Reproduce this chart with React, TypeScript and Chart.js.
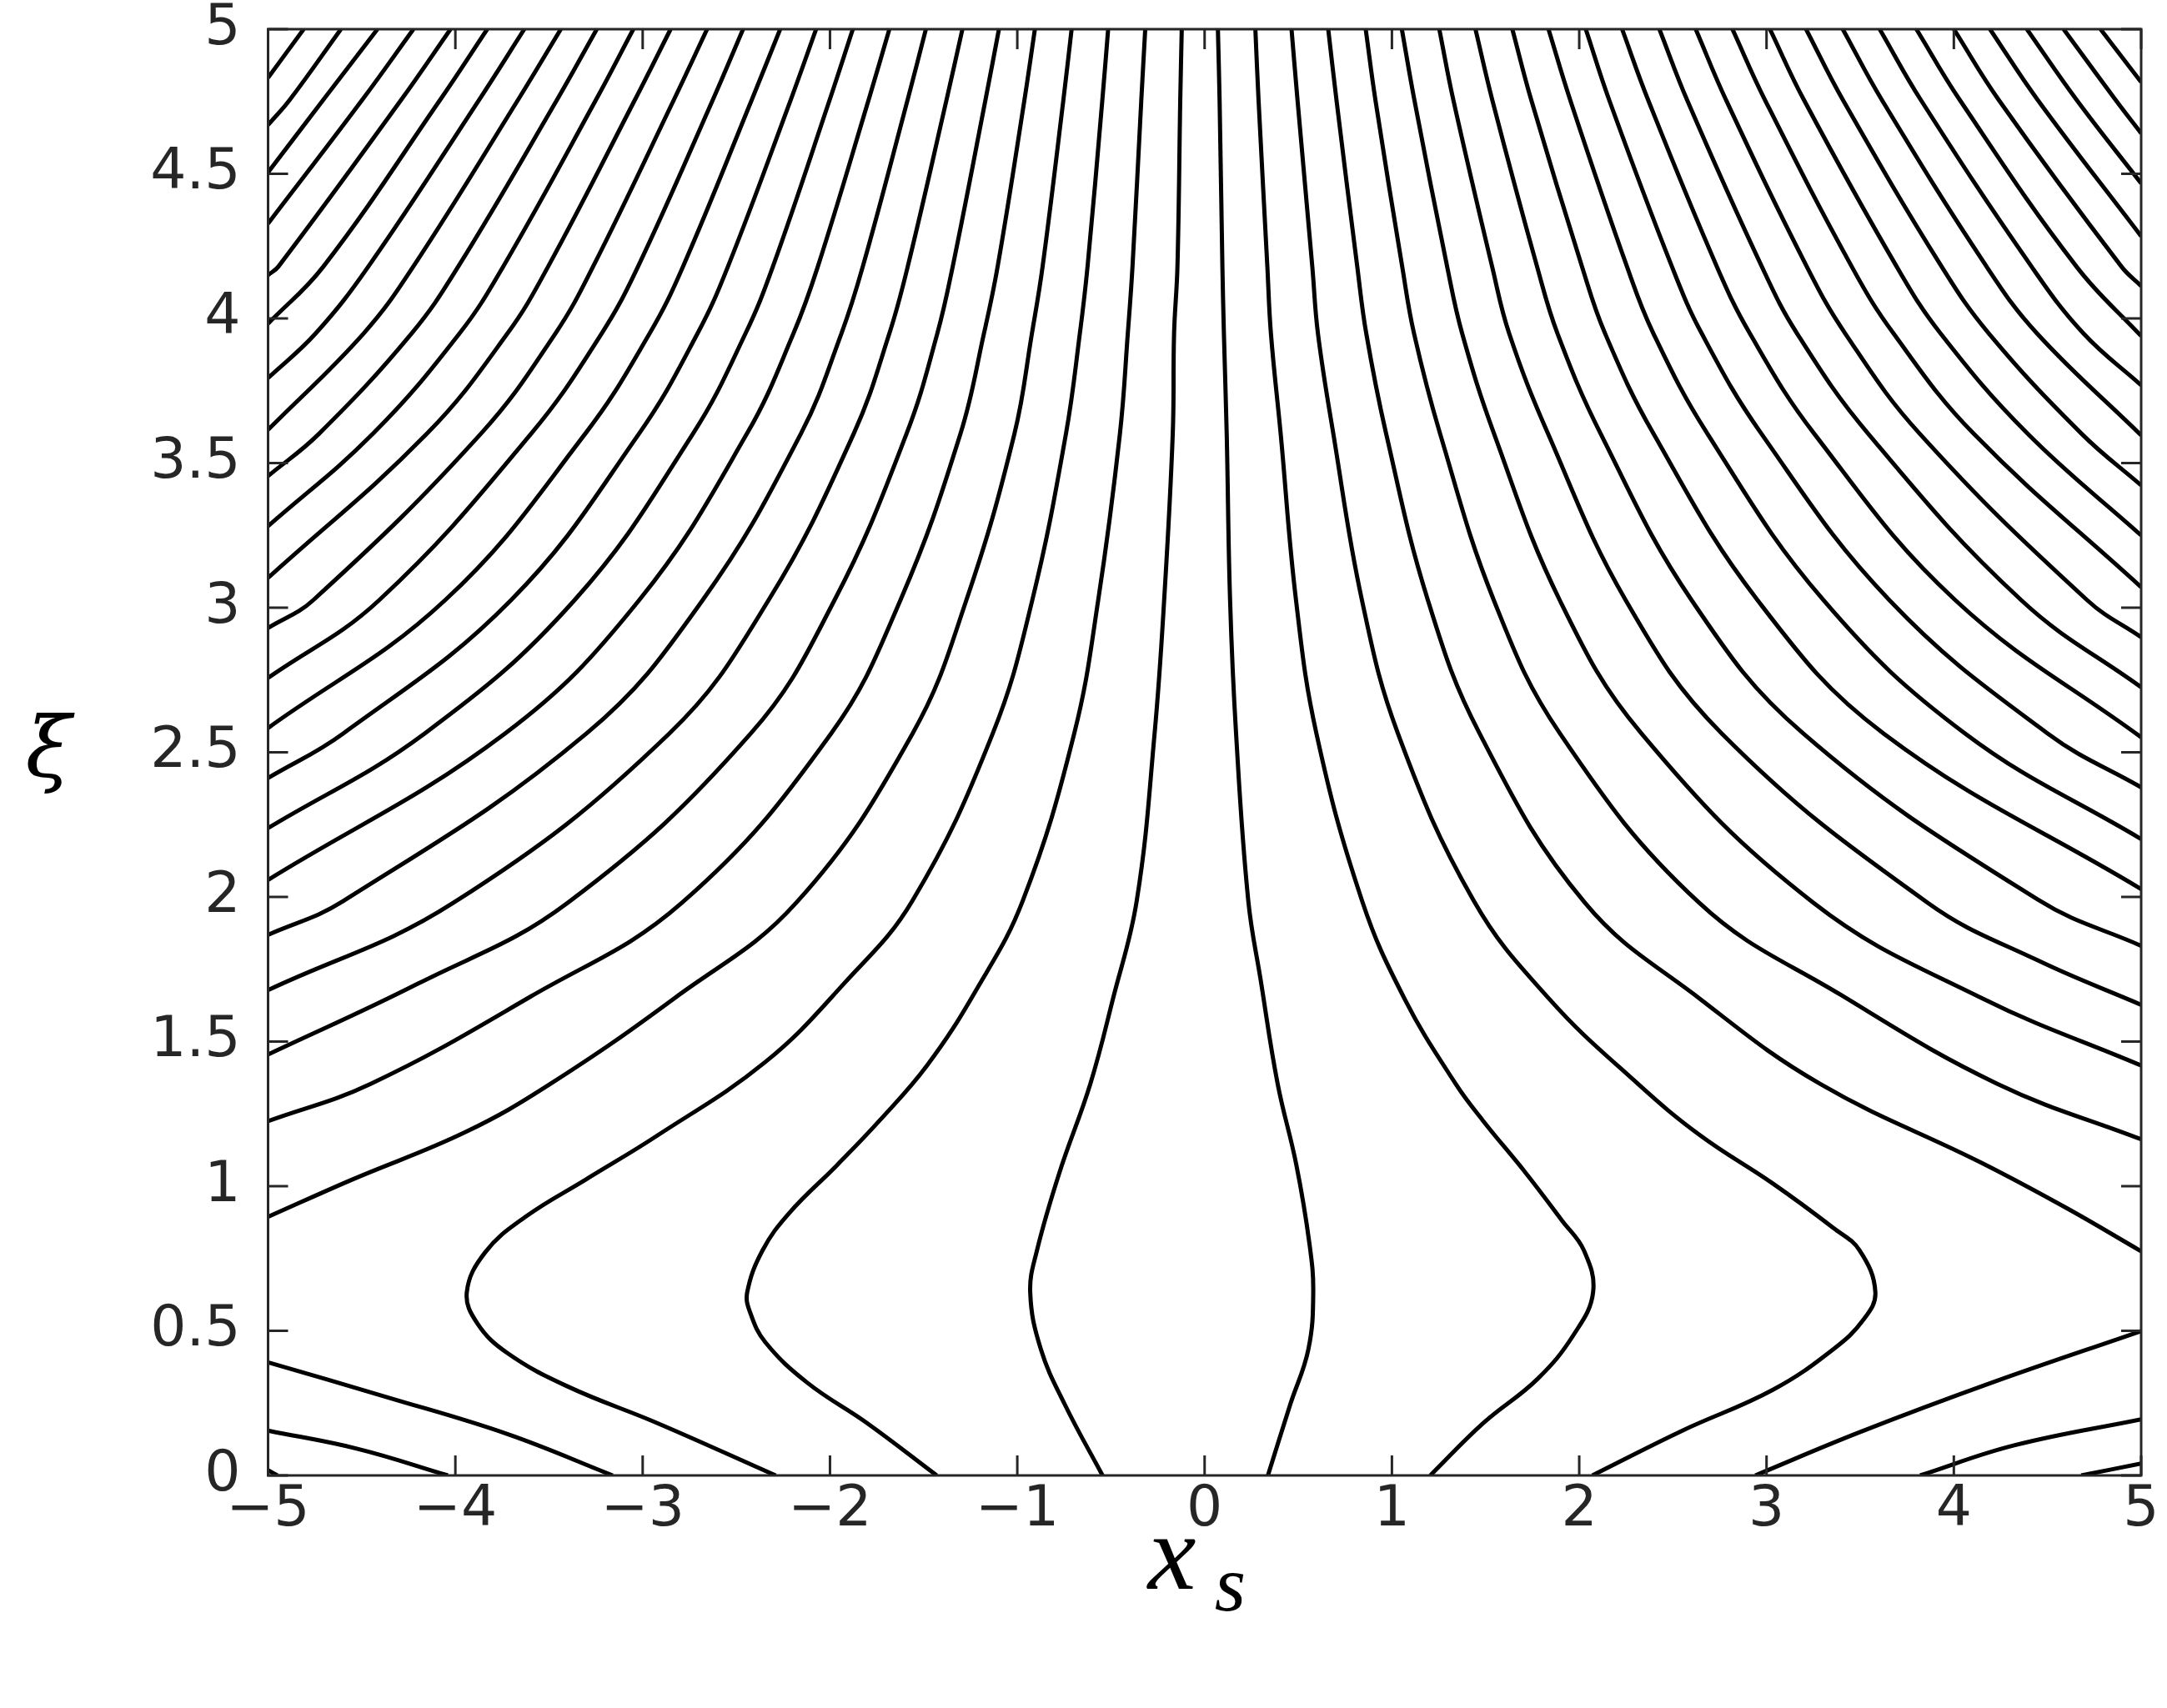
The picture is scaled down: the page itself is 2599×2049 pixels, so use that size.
import React, { useEffect, useRef } from "react";
import { Chart, registerables } from "chart.js";

Chart.register(...registerables);

// ---- axis ticks ----
const X_TICKS = [-5, -4, -3, -2, -1, 0, 1, 2, 3, 4, 5];
const Y_TICKS = [0, 0.5, 1, 1.5, 2, 2.5, 3, 3.5, 4, 4.5, 5];

// ---- contour lines, [x_s, xi] pairs ----
// left family (top edge -> left edge)
const L0 = [[-4.81, 5], [-5, 4.832]];
const L1 = [[-4.611, 5], [-4.885, 4.755], [-5, 4.669]];
const L2 = [[-4.416, 5], [-4.706, 4.755], [-5, 4.505]];
const L3 = [[-4.224, 5], [-4.498, 4.755], [-5, 4.328]];
const L4 = [[-4.026, 5], [-4.29, 4.755], [-4.945, 4.179], [-5, 4.15]];
const L5 = [[-3.83, 5], [-4.082, 4.755], [-4.705, 4.179], [-5, 3.982]];
const L6 = [[-3.632, 5], [-3.874, 4.755], [-4.465, 4.179], [-4.746, 3.948], [-5, 3.794]];
const L7 = [[-3.437, 5], [-3.666, 4.755], [-4.225, 4.179], [-4.49, 3.948], [-5, 3.615]];
const L8 = [[-3.245, 5], [-3.458, 4.755], [-3.985, 4.179], [-4.234, 3.948], [-4.727, 3.602], [-5, 3.455]];
const L9 = [[-3.05, 5], [-3.25, 4.755], [-3.745, 4.179], [-3.978, 3.948], [-4.439, 3.602], [-5, 3.282]];
const L10 = [[-2.851, 5], [-3.042, 4.755], [-3.505, 4.179], [-3.722, 3.948], [-4.151, 3.602], [-5, 3.103]];
const L11 = [[-2.656, 5], [-2.834, 4.755], [-3.265, 4.179], [-3.466, 3.948], [-3.863, 3.602], [-4.759, 3.026], [-5, 2.93]];
const L12 = [[-2.464, 5], [-2.626, 4.755], [-3.025, 4.179], [-3.219, 3.948], [-3.595, 3.602], [-4.407, 3.026], [-5, 2.757]];
const L13 = [[-2.266, 5], [-2.418, 4.755], [-2.785, 4.179], [-2.963, 3.948], [-3.306, 3.602], [-4.055, 3.026], [-5, 2.584]];
const L14 = [[-2.074, 5], [-2.21, 4.755], [-2.545, 4.179], [-2.707, 3.948], [-3.019, 3.602], [-3.703, 3.026], [-4.599, 2.565], [-5, 2.411]];
const L15 = [[-1.878, 5], [-2.002, 4.755], [-2.305, 4.179], [-2.451, 3.948], [-2.731, 3.602], [-3.364, 3.026], [-4.164, 2.565], [-5, 2.238]];
const L16 = [[-1.683, 5], [-1.794, 4.755], [-2.065, 4.179], [-2.195, 3.948], [-2.443, 3.602], [-3.019, 3.026], [-3.735, 2.565], [-5, 2.059]];
const L17 = [[-1.488, 5], [-1.586, 4.755], [-1.825, 4.179], [-1.939, 3.948], [-2.155, 3.602], [-2.68, 3.026], [-3.3, 2.565], [-4.6, 1.985], [-5, 1.869]];
const L18 = [[-1.293, 5], [-1.378, 4.755], [-1.585, 4.179], [-1.683, 3.948], [-1.873, 3.602], [-2.328, 3.026], [-2.858, 2.565], [-4.01, 1.98], [-5, 1.678]];
const L19 = [[-1.098, 5], [-1.17, 4.755], [-1.345, 4.179], [-1.427, 3.948], [-1.591, 3.602], [-1.976, 3.026], [-2.423, 2.565], [-3.4, 1.98], [-4.2, 1.7], [-5, 1.455]];
const L20 = [[-0.906, 5], [-0.962, 4.755], [-1.105, 4.179], [-1.178, 3.948], [-1.303, 3.602], [-1.624, 3.026], [-1.994, 2.565], [-2.79, 1.98], [-3.6, 1.655], [-4.452, 1.354], [-5, 1.225]];
const L21 = [[-0.71, 5], [-0.754, 4.755], [-0.865, 4.179], [-0.922, 3.948], [-1.015, 3.602], [-1.272, 3.026], [-1.559, 2.565], [-2.18, 1.98], [-2.83, 1.65], [-3.492, 1.354], [-3.946, 1.187], [-4.554, 1.022], [-5, 0.894]];
// left bulging lines (top edge -> bottom edge)
const B2 = [[-0.515, 5], [-0.546, 4.755], [-0.625, 4.179], [-0.666, 3.948], [-0.74, 3.602], [-0.92, 3.026], [-1.131, 2.565], [-1.559, 1.988], [-1.93, 1.697], [-2.346, 1.429], [-2.922, 1.175], [-3.306, 1.022], [-3.626, 0.894], [-3.84, 0.772], [-3.939, 0.633], [-3.882, 0.525], [-3.722, 0.423], [-3.402, 0.308], [-2.922, 0.181], [-2.29, 0]];
const B1 = [[-0.317, 5], [-0.338, 4.755], [-0.385, 4.179], [-0.41, 3.948], [-0.452, 3.602], [-0.568, 3.026], [-0.696, 2.565], [-0.97, 1.988], [-1.226, 1.671], [-1.482, 1.417], [-1.738, 1.225], [-1.962, 1.073], [-2.218, 0.907], [-2.36, 0.778], [-2.442, 0.633], [-2.426, 0.563], [-2.346, 0.461], [-2.122, 0.321], [-1.802, 0.181], [-1.43, 0]];
const C1 = [[-0.122, 5], [-0.13, 4.755], [-0.145, 4.179], [-0.163, 3.948], [-0.17, 3.602], [-0.216, 3.026], [-0.267, 2.565], [-0.362, 1.988], [-0.49, 1.646], [-0.61, 1.354], [-0.775, 1.047], [-0.895, 0.778], [-0.931, 0.633], [-0.874, 0.436], [-0.746, 0.245], [-0.545, 0]];
// right bulging lines
const C2 = [[0.071, 5], [0.08, 4.755], [0.095, 4.179], [0.103, 3.948], [0.118, 3.602], [0.136, 3.026], [0.168, 2.565], [0.233, 1.988], [0.3, 1.71], [0.39, 1.354], [0.49, 1.073], [0.56, 0.8], [0.58, 0.633], [0.554, 0.436], [0.457, 0.245], [0.338, 0]];
const B3 = [[0.271, 5], [0.288, 4.755], [0.335, 4.179], [0.354, 3.948], [0.406, 3.602], [0.488, 3.026], [0.597, 2.565], [0.84, 1.988], [1.069, 1.646], [1.34, 1.354], [1.488, 1.225], [1.713, 1.047], [1.907, 0.882], [2.025, 0.778], [2.074, 0.633], [1.971, 0.487], [1.778, 0.334], [1.488, 0.181], [1.205, 0]];
const B4 = [[0.464, 5], [0.496, 4.755], [0.575, 4.179], [0.605, 3.948], [0.687, 3.602], [0.84, 3.026], [1.032, 2.565], [1.436, 1.988], [1.842, 1.646], [2.313, 1.354], [2.647, 1.175], [3.034, 1.009], [3.356, 0.856], [3.497, 0.778], [3.581, 0.633], [3.517, 0.538], [3.356, 0.436], [3.034, 0.296], [2.551, 0.155], [2.07, 0]];
// right family (top edge -> right edge)
const R0 = [[4.783, 5], [5, 4.817]];
const R1 = [[4.586, 5], [4.864, 4.755], [5, 4.64]];
const R2 = [[4.39, 5], [4.656, 4.755], [5, 4.467]];
const R3 = [[4.193, 5], [4.448, 4.755], [5, 4.284]];
const R4 = [[4.0, 5], [4.24, 4.755], [4.895, 4.179], [5, 4.112]];
const R5 = [[3.8, 5], [4.032, 4.755], [4.655, 4.179], [5, 3.939]];
const R6 = [[3.604, 5], [3.824, 4.755], [4.415, 4.179], [4.692, 3.948], [5, 3.769]];
const R7 = [[3.407, 5], [3.616, 4.755], [4.175, 4.179], [4.444, 3.948], [5, 3.596]];
const R8 = [[3.211, 5], [3.408, 4.755], [3.935, 4.179], [4.187, 3.948], [4.681, 3.602], [5, 3.423]];
const R9 = [[3.018, 5], [3.2, 4.755], [3.695, 4.179], [3.929, 3.948], [4.393, 3.602], [5, 3.25]];
const R10 = [[2.818, 5], [2.992, 4.755], [3.455, 4.179], [3.678, 3.948], [4.105, 3.602], [5, 3.071]];
const R11 = [[2.622, 5], [2.784, 4.755], [3.215, 4.179], [3.42, 3.948], [3.817, 3.602], [4.712, 3.026], [5, 2.898]];
const R12 = [[2.428, 5], [2.576, 4.755], [2.975, 4.179], [3.163, 3.948], [3.542, 3.602], [4.36, 3.026], [5, 2.725]];
const R13 = [[2.229, 5], [2.368, 4.755], [2.735, 4.179], [2.911, 3.948], [3.254, 3.602], [4.008, 3.026], [5, 2.552]];
const R14 = [[2.035, 5], [2.16, 4.755], [2.495, 4.179], [2.654, 3.948], [2.972, 3.602], [3.656, 3.026], [4.501, 2.565], [5, 2.379]];
const R15 = [[1.836, 5], [1.952, 4.755], [2.255, 4.179], [2.396, 3.948], [2.684, 3.602], [3.304, 3.026], [4.06, 2.565], [5, 2.2]];
const R16 = [[1.643, 5], [1.744, 4.755], [2.015, 4.179], [2.138, 3.948], [2.396, 3.602], [2.952, 3.026], [3.625, 2.565], [5, 2.027]];
const R17 = [[1.446, 5], [1.536, 4.755], [1.775, 4.179], [1.884, 3.948], [2.114, 3.602], [2.6, 3.026], [3.196, 2.565], [4.45, 1.99], [5, 1.831]];
const R18 = [[1.253, 5], [1.328, 4.755], [1.535, 4.179], [1.626, 3.948], [1.833, 3.602], [2.248, 3.026], [2.761, 2.565], [3.86, 1.98], [4.45, 1.78], [5, 1.627]];
const R19 = [[1.053, 5], [1.12, 4.755], [1.295, 4.179], [1.375, 3.948], [1.545, 3.602], [1.896, 3.026], [2.332, 2.565], [3.25, 1.98], [4.15, 1.65], [5, 1.417]];
const R20 = [[0.86, 5], [0.912, 4.755], [1.055, 4.179], [1.118, 3.948], [1.257, 3.602], [1.544, 3.026], [1.897, 2.565], [2.64, 1.98], [3.4, 1.66], [4.232, 1.354], [5, 1.162]];
const R21 = [[0.66, 5], [0.704, 4.755], [0.815, 4.179], [0.863, 3.948], [0.969, 3.602], [1.192, 3.026], [1.468, 2.565], [2.03, 1.98], [2.65, 1.645], [3.285, 1.354], [4.15, 1.08], [4.6, 0.925], [5, 0.775]];
// short lines in the bottom corners
const LL1 = [[-5, 0.391], [-4.362, 0.27], [-3.722, 0.143], [-3.16, 0]];
const LL2 = [[-5, 0.155], [-4.522, 0.092], [-4.04, 0]];
const LL3 = [[-5, 0.018], [-4.95, 0]];
const LR1 = [[2.94, 0], [3.5, 0.15], [4.2, 0.32], [5, 0.499]];
const LR2 = [[3.82, 0], [4.322, 0.104], [5, 0.194]];
const LR3 = [[4.68, 0], [5, 0.041]];

const CURVES = [
  L0, L1, L2, L3, L4, L5, L6, L7, L8, L9, L10, L11, L12, L13, L14, L15, L16, L17, L18, L19, L20, L21,
  B2, B1, C1, C2, B3, B4,
  R0, R1, R2, R3, R4, R5, R6, R7, R8, R9, R10, R11, R12, R13, R14, R15, R16, R17, R18, R19, R20, R21,
  LL1, LL2, LL3, LR1, LR2, LR3,
];

const AXIS_COLOR = "#262626";
const TICK_FONT = "DejaVu Sans";

const fmt = (v: number) => {
  const s = String(Math.round(v * 10) / 10);
  return s.replace("-", "\u2212");
};

const framePlugin = {
  id: "frameTicksTitles",
  afterDatasetsDraw(chart: any) {
    const { ctx, chartArea } = chart;
    const { left, right, top, bottom } = chartArea;
    const xs = chart.scales.x;
    const ys = chart.scales.y;
    const L = 24;
    ctx.save();
    ctx.strokeStyle = AXIS_COLOR;
    ctx.lineWidth = 3;
    ctx.lineCap = "butt";
    ctx.beginPath();
    for (const v of X_TICKS) {
      const px = xs.getPixelForValue(v);
      ctx.moveTo(px, bottom);
      ctx.lineTo(px, bottom - L);
      ctx.moveTo(px, top);
      ctx.lineTo(px, top + L);
    }
    for (const v of Y_TICKS) {
      const py = ys.getPixelForValue(v);
      ctx.moveTo(left, py);
      ctx.lineTo(left + L, py);
      ctx.moveTo(right, py);
      ctx.lineTo(right - L, py);
    }
    ctx.stroke();
    ctx.strokeRect(left, top, right - left, bottom - top);

    // x-axis title: x_s
    const cx = (left + right) / 2;
    ctx.fillStyle = "#000";
    ctx.textAlign = "left";
    ctx.textBaseline = "alphabetic";
    ctx.font = 'italic 130px "Liberation Serif"';
    ctx.fillText("x", cx - 68, 1906);
    ctx.font = 'italic 96px "Liberation Serif"';
    ctx.fillText("s", cx + 12, 1932);

    // y-axis title: xi
    ctx.textAlign = "center";
    ctx.textBaseline = "middle";
    ctx.font = 'italic 100px "DejaVu Serif"';
    ctx.fillText("\u03BE", 58, 905);
    ctx.restore();
  },
};

export default function App() {
  const ref = useRef<HTMLCanvasElement>(null);

  useEffect(() => {
    const canvas = ref.current;
    if (!canvas) return;
    const datasets = CURVES.map((c) => ({
      data: c.map(([x, y]) => ({ x, y })),
      showLine: true,
      borderColor: "#000",
      borderWidth: 5,
      pointRadius: 0,
      pointHoverRadius: 0,
      tension: 0.4,
      fill: false,
      clip: 0,
    }));
    const chart = new Chart(canvas, {
      type: "scatter",
      data: { datasets },
      options: {
        animation: false,
        responsive: false,
        devicePixelRatio: 1,
        events: [],
        layout: { autoPadding: false, padding: { left: 0, right: 31, top: 35, bottom: 0 } },
        plugins: { legend: { display: false }, tooltip: { enabled: false }, title: { display: false } },
        scales: {
          x: {
            type: "linear",
            min: -5,
            max: 5,
            afterBuildTicks: (s: any) => {
              s.ticks = X_TICKS.map((v) => ({ value: v }));
            },
            afterFit: (s: any) => {
              s.height = 279;
              s.paddingLeft = 0;
              s.paddingRight = 0;
              s.paddingTop = 0;
              s.paddingBottom = 0;
            },
            grid: { display: false, drawTicks: false },
            border: { display: false },
            ticks: {
              autoSkip: false,
              maxRotation: 0,
              padding: 2,
              color: AXIS_COLOR,
              font: { family: TICK_FONT, size: 68 },
              callback: (v: any) => fmt(Number(v)),
            },
          },
          y: {
            type: "linear",
            min: 0,
            max: 5,
            afterBuildTicks: (s: any) => {
              s.ticks = Y_TICKS.map((v) => ({ value: v }));
            },
            afterFit: (s: any) => {
              s.width = 321.5;
              s.paddingLeft = 0;
              s.paddingRight = 0;
              s.paddingTop = 0;
              s.paddingBottom = 0;
            },
            grid: { display: false, drawTicks: false },
            border: { display: false },
            ticks: {
              autoSkip: false,
              padding: 33,
              color: AXIS_COLOR,
              font: { family: TICK_FONT, size: 68 },
              callback: (v: any) => fmt(Number(v)),
            },
          },
        },
      },
      plugins: [framePlugin],
    } as any);
    return () => chart.destroy();
  }, []);

  return (
    <div style={{ position: "absolute", left: 0, top: 0, width: 2599, height: 2049, background: "#fff" }}>
      <canvas ref={ref} width={2599} height={2049} style={{ width: 2599, height: 2049, display: "block" }} />
    </div>
  );
}
